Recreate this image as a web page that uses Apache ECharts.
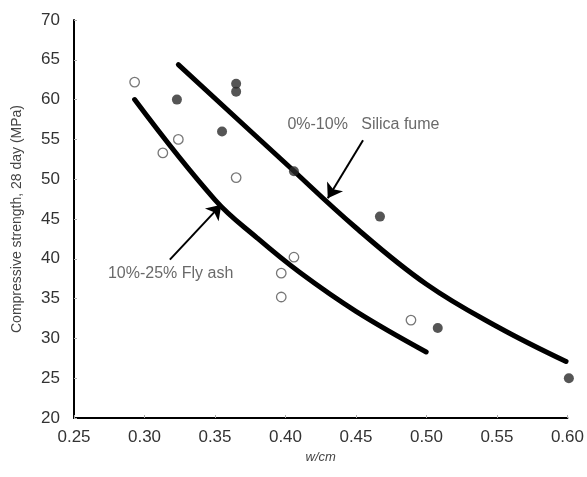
<!DOCTYPE html>
<html>
<head>
<meta charset="utf-8">
<script src="https://cdn.jsdelivr.net/npm/echarts@6/dist/echarts.min.js"></script>
<style>html,body{margin:0;padding:0;background:#fff}#c{width:587px;height:477px}</style>
</head>
<body>
<div id="c"></div>
<script>
// Tick settings
var xMin = 0.25, xMax = 0.60, xStep = 0.05;
var yMin = 20, yMax = 70, yStep = 5;

// Silica fume (filled dots)
var silicaX = [0.323, 0.365, 0.365, 0.355, 0.406, 0.467, 0.508, 0.601];
var silicaY = [60, 62, 61, 56, 51, 45.3, 31.3, 25];

// Fly ash (open dots)
var flyX = [0.293, 0.324, 0.313, 0.365, 0.406, 0.397, 0.397, 0.489];
var flyY = [62.2, 55, 53.3, 50.2, 40.2, 38.2, 35.2, 32.3];

// Hand-drawn trend curves
var silicaCurveX = [0.324, 0.40, 0.45, 0.50, 0.55, 0.599];
var silicaCurveY = [64.4, 52.0, 43.9, 36.8, 31.5, 27.1];
var flyCurveX = [0.293, 0.35, 0.38, 0.41, 0.45, 0.4998];
var flyCurveY = [60.0, 47.4, 42.6, 38.3, 33.4, 28.3];

// Annotation arrows [tailX, tailY, tipX, tipY]
var silicaArrow = [0.455, 54.9, 0.430, 47.6];
var flyArrow = [0.318, 39.9, 0.3545, 46.8];

// Annotation texts
var silicaText = "0%-10%   Silica fume";
var flyText = "10%-25% Fly ash";
var silicaTextPos = [0.401, 56.9];
var flyTextPos = [0.2737, 38.2];

function zip(a, b) { return a.map(function (v, i) { return [v, b[i]]; }); }

var chart = echarts.init(document.getElementById('c'));
var font = '"Liberation Sans", Arial, sans-serif';
chart.setOption({
  animation: false,
  backgroundColor: '#fff',
  grid: { left: 74, right: 12, top: 20, bottom: 59 },
  xAxis: {
    type: 'value', min: xMin, max: xMax, interval: xStep,
    name: 'w/cm', nameLocation: 'middle', nameGap: 33,
    nameTextStyle: { fontStyle: 'italic', fontSize: 13, color: '#444', fontFamily: font },
    axisLine: { lineStyle: { color: '#000', width: 2 } },
    axisTick: { inside: true, length: 3, lineStyle: { color: '#aaa' } },
    axisLabel: { fontSize: 17, color: '#333', margin: 11, fontFamily: font,
      formatter: function (v) { return v.toFixed(2); } },
    splitLine: { show: false }
  },
  yAxis: {
    type: 'value', min: yMin, max: yMax, interval: yStep,
    name: 'Compressive strength, 28 day (MPa)', nameLocation: 'middle', nameGap: 50,
    nameTextStyle: { fontSize: 14, color: '#444', fontFamily: font },
    axisLine: { onZero: false, lineStyle: { color: '#000', width: 2 } },
    axisTick: { inside: true, length: 3, lineStyle: { color: '#aaa' } },
    axisLabel: { fontSize: 17, color: '#333', margin: 14, fontFamily: font },
    splitLine: { show: false }
  },
  series: [
    {
      type: 'line', data: zip(silicaCurveX, silicaCurveY), smooth: 0.4,
      showSymbol: false, lineStyle: { color: '#000', width: 5, cap: 'round' }, z: 2
    },
    {
      type: 'line', data: zip(flyCurveX, flyCurveY), smooth: 0.4,
      showSymbol: false, lineStyle: { color: '#000', width: 5, cap: 'round' }, z: 2
    },
    {
      type: 'scatter', data: zip(silicaX, silicaY), symbol: 'circle', symbolSize: 10,
      clip: false, itemStyle: { color: '#2b2b2b' }, z: 3
    },
    {
      type: 'scatter', data: zip(flyX, flyY), symbol: 'circle', symbolSize: 9.5,
      clip: false, itemStyle: { color: '#fff', borderColor: '#555', borderWidth: 1.3 }, z: 3
    },
    {
      type: 'lines', coordinateSystem: 'cartesian2d',
      symbol: ['none', 'arrow'], symbolSize: 14,
      lineStyle: { color: '#000', width: 2, opacity: 1 },
      data: [
        { coords: [[silicaArrow[0], silicaArrow[1]], [silicaArrow[2], silicaArrow[3]]] },
        { coords: [[flyArrow[0], flyArrow[1]], [flyArrow[2], flyArrow[3]]] }
      ], z: 4
    },
    {
      type: 'scatter', symbolSize: 1, itemStyle: { color: 'rgba(0,0,0,0)' }, silent: true,
      data: [
        { value: silicaTextPos, label: { formatter: silicaText } },
        { value: flyTextPos, label: { formatter: flyText } }
      ],
      label: { show: true, position: 'right', distance: 0, fontSize: 16, color: '#444', fontFamily: font }
    }
  ]
});
</script>
</body>
</html>
